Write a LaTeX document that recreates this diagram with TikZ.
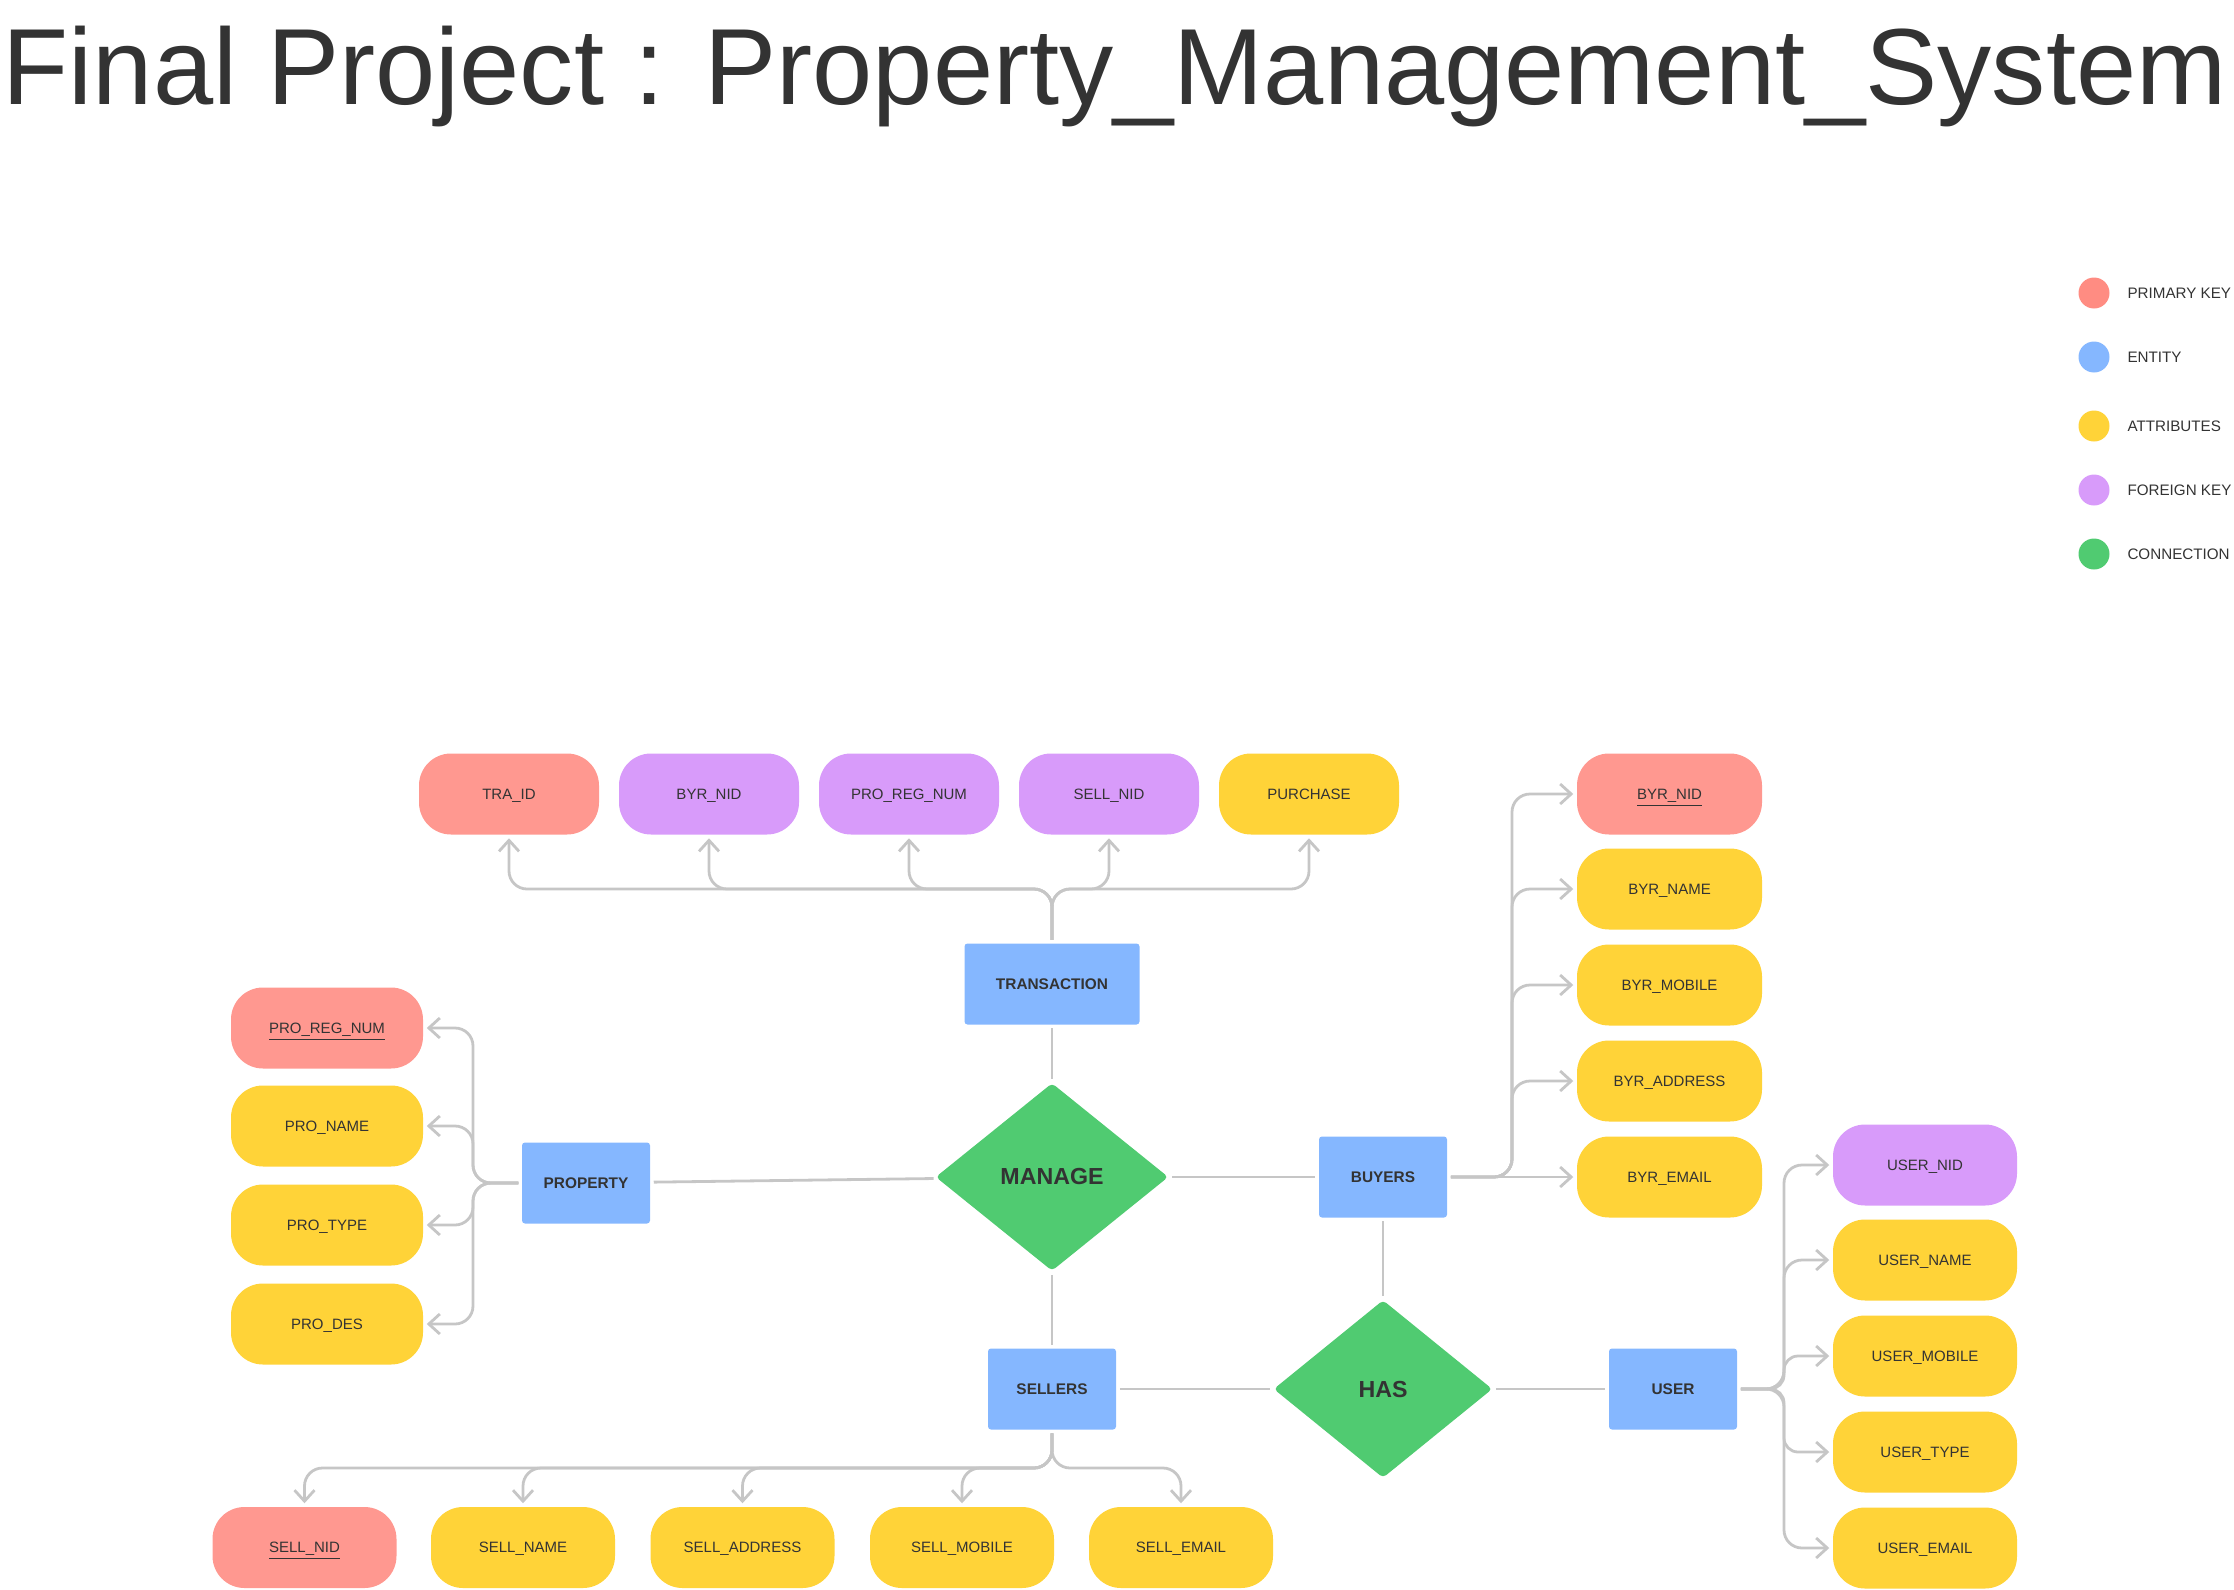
\documentclass[tikz,border=0pt]{standalone}
\usepackage{fontspec}
\setmainfont{Liberation Sans}
\usetikzlibrary{positioning,shapes.geometric,arrows.meta}

\tikzset{every picture/.style={line width=0.75pt}}
\tikzset{
  txt/.style={text={rgb, 255:red, 51; green, 51; blue, 51 }},
  attr/.style={txt, rounded corners=16pt, minimum width=92pt, minimum height=40.5pt, inner sep=0pt, text height=5.4pt, text depth=0pt, font=\fontsize{7.5}{9}\selectfont},
  pk/.style={attr, fill={rgb, 255:red, 255; green, 152; blue, 144 }},
  fk/.style={attr, fill={rgb, 255:red, 216; green, 155; blue, 250 }},
  att/.style={attr, fill={rgb, 255:red, 255; green, 211; blue, 56 }},
  ent/.style={txt, rounded corners=1.5pt, minimum width=64pt, minimum height=40.5pt, inner sep=0pt, text height=5.5pt, text depth=0pt, fill={rgb, 255:red, 133; green, 183; blue, 255 }, font=\bfseries\fontsize{7.7}{9}\selectfont},
  rel/.style={txt, diamond, rounded corners=2pt, inner sep=0pt, fill={rgb, 255:red, 80; green, 203; blue, 113 }, font=\bfseries\fontsize{11.6}{13}\selectfont},
  link/.style={draw={rgb, 255:red, 198; green, 198; blue, 198 }, line width=1.4pt, shorten <=1.5pt, shorten >=1.5pt},
  conn/.style={link, rounded corners=9pt, -{Straight Barb[length=5.5pt,width=10pt]}},
  legdot/.style={circle, minimum size=15.5pt, inner sep=0pt},
  legtext/.style={txt, inner sep=0pt, font=\fontsize{7.6}{9}\selectfont}
}

\begin{document}
\begin{tikzpicture}[x=0.5pt,y=0.5pt,yscale=-1,xscale=1]
\useasboundingbox (0,0) rectangle (2234,1590);

% Title
\node [txt, anchor=base west, inner sep=0pt] (title) at (2,104) {\resizebox{1112pt}{!}{\fontsize{54.5}{60}\selectfont Final Project : Property\_Management\_System}};

% Legend
\node [legdot, fill={rgb, 255:red, 255; green, 140; blue, 130 }] (lpk) at (2094,293) {};
\node [legtext, right=8.25pt of lpk] (lpkt) {PRIMARY KEY};
\node [legdot, fill={rgb, 255:red, 133; green, 183; blue, 255 }] (lent) at (2094,357) {};
\node [legtext, right=8.25pt of lent] (lentt) {ENTITY};
\node [legdot, fill={rgb, 255:red, 255; green, 211; blue, 56 }] (latt) at (2094,426) {};
\node [legtext, right=8.25pt of latt] (lattt) {ATTRIBUTES};
\node [legdot, fill={rgb, 255:red, 216; green, 155; blue, 250 }] (lfk) at (2094,490) {};
\node [legtext, right=8.25pt of lfk] (lfkt) {FOREIGN KEY};
\node [legdot, fill={rgb, 255:red, 80; green, 203; blue, 113 }] (lrel) at (2094,554) {};
\node [legtext, right=8.25pt of lrel] (lrelt) {CONNECTION};

% Entities and relations
\node [ent, minimum width=87.5pt] (tra) at (1052,984) {TRANSACTION};
\node [ent] (prop) at (586,1183) {PROPERTY};
\node [rel, minimum width=116.5pt, minimum height=94pt] (mng) at (1052,1177) {MANAGE};
\node [ent] (buy) at (1383,1177) {BUYERS};
\node [rel, minimum width=109.5pt, minimum height=89pt] (has) at (1383,1389) {HAS};
\node [ent] (sell) at (1052,1389) {SELLERS};
\node [ent] (usr) at (1673,1389) {USER};

% Transaction attributes
\node [pk, minimum width=90pt] (traid) at (509,794) {TRA\_ID};
\node [fk, minimum width=90pt] (trabyr) at (709,794) {BYR\_NID};
\node [fk, minimum width=90pt] (trapro) at (909,794) {PRO\_REG\_NUM};
\node [fk, minimum width=90pt] (trasell) at (1109,794) {SELL\_NID};
\node [att, minimum width=90pt] (trapur) at (1309,794) {PURCHASE};

% Property attributes
\node [pk, minimum width=96pt] (preg) at (327,1028) {\underline{PRO\_REG\_NUM}};
\node [att, minimum width=96pt] (pname) at (327,1126) {PRO\_NAME};
\node [att, minimum width=96pt] (ptype) at (327,1225) {PRO\_TYPE};
\node [att, minimum width=96pt] (pdes) at (327,1324) {PRO\_DES};

% Buyer attributes
\node [pk, minimum width=92.5pt] (bnid) at (1669.5,794) {\underline{BYR\_NID}};
\node [att, minimum width=92.5pt] (bname) at (1669.5,889) {BYR\_NAME};
\node [att, minimum width=92.5pt] (bmob) at (1669.5,985) {BYR\_MOBILE};
\node [att, minimum width=92.5pt] (badd) at (1669.5,1081) {BYR\_ADDRESS};
\node [att, minimum width=92.5pt] (bmail) at (1669.5,1177) {BYR\_EMAIL};

% User attributes
\node [fk] (unid) at (1925,1165) {USER\_NID};
\node [att] (uname) at (1925,1260) {USER\_NAME};
\node [att] (umob) at (1925,1356) {USER\_MOBILE};
\node [att] (utype) at (1925,1452) {USER\_TYPE};
\node [att] (umail) at (1925,1548) {USER\_EMAIL};

% Seller attributes
\node [pk] (snid) at (304.5,1547.5) {\underline{SELL\_NID}};
\node [att] (sname) at (523,1547.5) {SELL\_NAME};
\node [att] (sadd) at (742.5,1547.5) {SELL\_ADDRESS};
\node [att] (smob) at (962,1547.5) {SELL\_MOBILE};
\node [att] (smail) at (1181,1547.5) {SELL\_EMAIL};

% Relation links
\draw [link] (tra) -- (mng);
\draw [link] (prop) -- (mng);
\draw [link] (mng) -- (buy);
\draw [link] (mng) -- (sell);
\draw [link] (buy) -- (has);
\draw [link] (sell) -- (has);
\draw [link] (has) -- (usr);

% Transaction connectors
\coordinate (trabus) at (1052,889);
\draw [conn] (tra.north) -- (trabus) -| (traid.south);
\draw [conn] (tra.north) -- (trabus) -| (trabyr.south);
\draw [conn] (tra.north) -- (trabus) -| (trapro.south);
\draw [conn] (tra.north) -- (trabus) -| (trasell.south);
\draw [conn] (tra.north) -- (trabus) -| (trapur.south);

% Property connectors
\coordinate (propbus) at (473,1183);
\draw [conn] (prop.west) -- (propbus) |- (preg.east);
\draw [conn] (prop.west) -- (propbus) |- (pname.east);
\draw [conn] (prop.west) -- (propbus) |- (ptype.east);
\draw [conn] (prop.west) -- (propbus) |- (pdes.east);

% Buyer connectors
\coordinate (buybus) at (1512,1177);
\draw [conn] (buy.east) -- (buybus) |- (bnid.west);
\draw [conn] (buy.east) -- (buybus) |- (bname.west);
\draw [conn] (buy.east) -- (buybus) |- (bmob.west);
\draw [conn] (buy.east) -- (buybus) |- (badd.west);
\draw [conn] (buy.east) -- (bmail.west);

% User connectors
\coordinate (usrbus) at (1784,1389);
\draw [conn] (usr.east) -- (usrbus) |- (unid.west);
\draw [conn] (usr.east) -- (usrbus) |- (uname.west);
\draw [conn, rounded corners=7pt] (usr.east) -- (usrbus) |- (umob.west);
\draw [conn, rounded corners=7pt] (usr.east) -- (usrbus) |- (utype.west);
\draw [conn] (usr.east) -- (usrbus) |- (umail.west);

% Seller connectors
\coordinate (sellbus) at (1052,1468);
\draw [conn] (sell.south) -- (sellbus) -| (snid.north);
\draw [conn] (sell.south) -- (sellbus) -| (sname.north);
\draw [conn] (sell.south) -- (sellbus) -| (sadd.north);
\draw [conn] (sell.south) -- (sellbus) -| (smob.north);
\draw [conn] (sell.south) -- (sellbus) -| (smail.north);
\end{tikzpicture}
\end{document}
